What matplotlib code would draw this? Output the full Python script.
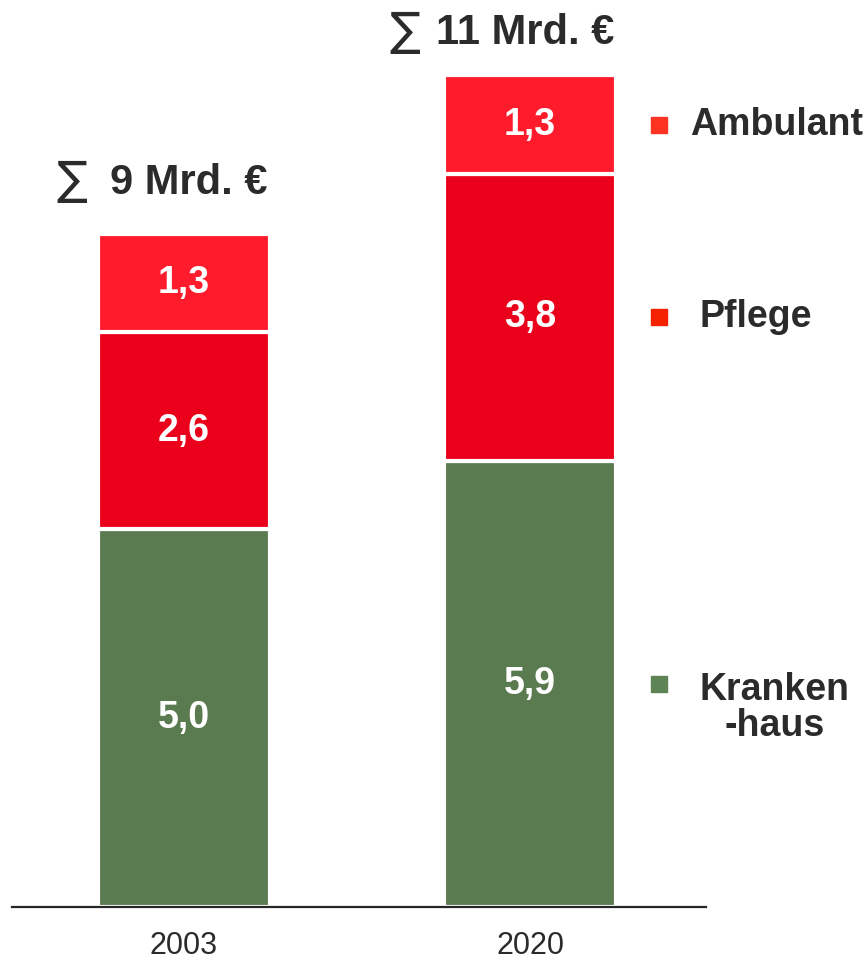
import matplotlib
matplotlib.use("Agg")
import matplotlib.pyplot as plt
import numpy as np

plt.rcParams['font.family'] = ['Liberation Sans', 'DejaVu Sans']

# ---- data ----
years = ["2003", "2020"]
krankenhaus = [5.0, 5.9]
pflege = [2.6, 3.8]
ambulant = [1.3, 1.3]
totals_text = ["9 Mrd. \u20ac", "11 Mrd. \u20ac"]
sum_sign = "\u2211"
value_labels = {
    "Krankenhaus": ["5,0", "5,9"],
    "Pflege": ["2,6", "3,8"],
    "Ambulant": ["1,3", "1,3"],
}
legend_labels = ["Ambulant", "Pflege", "Kranken\n-haus"]

# ---- style ----
c_green = "#5a7a50"
c_pflege = "#eb001b"
c_amb = "#fd1b2c"
leg_colors = ["#ff3322", "#f52200", "#5e8456"]
txt_dark = "#2b2b2b"

W, H = 866, 960
fig = plt.figure(figsize=(W / 100, H / 100), dpi=100)
ax = fig.add_axes([12 / W, (H - 907) / H, 694 / W, 907 / H])

x = np.arange(len(years))
px_per_x = 346.0
width = 172 / px_per_x

ax.set_xlim(-172 / px_per_x, 1 + 176 / px_per_x)
ax.set_ylim(0, 907 / 75.6)

k = np.array(krankenhaus)
p = np.array(pflege)
a = np.array(ambulant)

segs = [
    ("Krankenhaus", k, np.zeros_like(k), c_green),
    ("Pflege", p, k, c_pflege),
    ("Ambulant", a, k + p, c_amb),
]
for name, vals, bottoms, col in segs:
    ax.bar(x, vals, width, bottom=bottoms, color=col,
           edgecolor="white", linewidth=3, zorder=2)
    for xi, v, b, lab in zip(x, vals, bottoms, value_labels[name]):
        ax.text(xi, b + v / 2, lab, ha="center", va="center",
                color="white", fontsize=27, fontweight="bold", zorder=3)

# totals above bars (right-aligned to bar edge)
tops = k + p + a
pads = [40, 31]
gaps = [23, 15]
for xi, t, txt, pad, gap in zip(x, tops, totals_text, pads, gaps):
    tt = ax.annotate(txt, xy=(xi + width / 2 - 2 / px_per_x, t), xytext=(0, pad * 0.72),
                     textcoords="offset points", ha="right", va="baseline",
                     fontsize=30, fontweight="bold", color=txt_dark,
                     annotation_clip=False)
    ax.annotate(sum_sign, xy=(0, 0.5), xycoords=tt, xytext=(-gap * 0.72, 1),
                textcoords="offset points", ha="right", va="center",
                fontsize=33, fontweight="normal", family=["DejaVu Sans"],
                color=txt_dark, annotation_clip=False)

# legend aligned with segment midpoints of last bar
mids = [k[-1] + p[-1] + a[-1] / 2, k[-1] + p[-1] / 2, k[-1] / 2]
marker_x = 1 + (659 - 530) / px_per_x
text_x = [1 + (690 - 530) / px_per_x, 1 + (699 - 530) / px_per_x, 1 + (700 - 530) / px_per_x]
for lab, col, ym, tx in zip(legend_labels, leg_colors, mids, text_x):
    ax.plot([marker_x], [ym], marker="s", markersize=11.5, color=col,
            linestyle="none", clip_on=False, zorder=3)
    if "\n" in lab:
        ax.annotate(lab, xy=(tx, ym), xytext=(0, 12 * 0.72), textcoords="offset points",
                    ha="left", va="top", multialignment="center", linespacing=1.0,
                    fontsize=27, fontweight="bold", color=txt_dark,
                    annotation_clip=False)
    else:
        ax.text(tx, ym, lab, ha="left", va="center", fontsize=27,
                fontweight="bold", color=txt_dark, clip_on=False)

# axes styling
for s in ["top", "right", "left"]:
    ax.spines[s].set_visible(False)
ax.spines["bottom"].set_color("#262626")
ax.spines["bottom"].set_linewidth(1.6)
ax.set_yticks([])
ax.set_xticks(x)
ax.set_xticklabels(years, fontsize=22, color=txt_dark)
ax.tick_params(axis="x", length=0, pad=17)

fig.savefig("out.png", dpi=100)
